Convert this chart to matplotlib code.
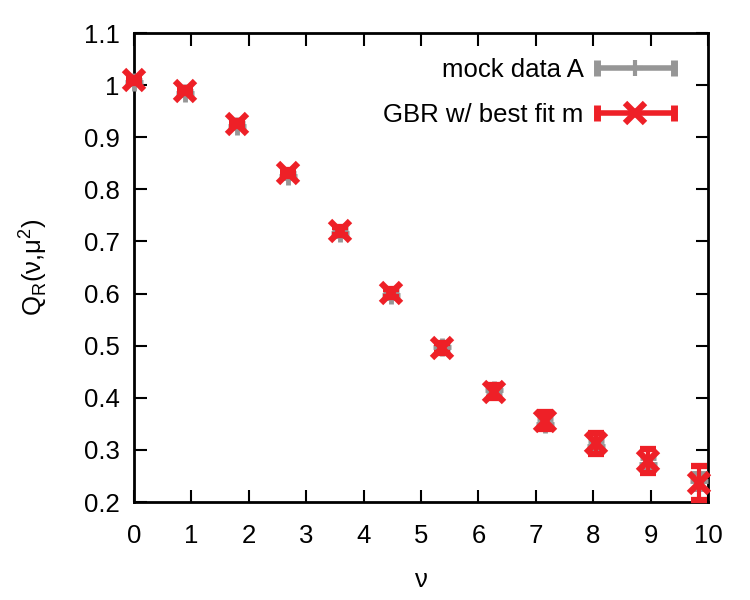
import matplotlib
matplotlib.use("Agg")
import matplotlib.pyplot as plt
from matplotlib.lines import Line2D
from matplotlib.legend_handler import HandlerBase

plt.rcParams['font.family'] = ['Liberation Sans', 'DejaVu Sans']

# data
nu = [0.0, 0.895, 1.79, 2.685, 3.58, 4.475, 5.37, 6.265, 7.16, 8.055, 8.95, 9.845]
mock_q = [1.006, 0.985, 0.922, 0.826, 0.717, 0.598, 0.497, 0.415, 0.350, 0.308, 0.273, 0.240]
mock_err = [0.004, 0.004, 0.005, 0.005, 0.006, 0.006, 0.007, 0.008, 0.009, 0.010, 0.012, 0.015]
gbr_q = [1.009, 0.989, 0.926, 0.831, 0.720, 0.601, 0.495, 0.412, 0.356, 0.313, 0.278, 0.237]
gbr_err = [0.004, 0.005, 0.005, 0.006, 0.007, 0.008, 0.010, 0.012, 0.016, 0.020, 0.023, 0.033]

yticks = [0.2, 0.3, 0.4, 0.5, 0.6, 0.7, 0.8, 0.9, 1.0, 1.1]
ytick_labels = ['0.2', '0.3', '0.4', '0.5', '0.6', '0.7', '0.8', '0.9', '1', '1.1']

grey = '#969696'
red = '#ee2027'


class HandlerBarKey(HandlerBase):
    """gnuplot-style key: horizontal bar with end ticks and a marker in the middle"""

    def __init__(self, marker, ms, mew, lw):
        super().__init__()
        self.marker, self.ms, self.mew, self.lw = marker, ms, mew, lw

    def create_artists(self, legend, orig_handle, xdescent, ydescent, width,
                       height, fontsize, trans):
        c = orig_handle.get_color()
        y = height / 2 - ydescent
        x0, x1 = -xdescent, -xdescent + width
        bar = Line2D([x0, x1], [y, y], color=c, lw=self.lw, solid_capstyle='butt')
        ends = Line2D([x0 + 1, x1 - 1], [y, y], ls='none', marker='|', ms=12,
                      mew=self.lw + 1, color=c)
        mid = Line2D([(x0 + x1) / 2], [y], ls='none', marker=self.marker,
                     ms=self.ms, mew=self.mew, color=c)
        return [a for a in (bar, ends, mid) if not a.set_transform(trans)]


fig = plt.figure(figsize=(7.5, 6), dpi=100)
ax = fig.add_axes([0.1787, 0.1633, 0.7653, 0.7817])

ax.errorbar(nu, mock_q, yerr=mock_err, fmt='+', color=grey, ms=13, mew=3.5,
            elinewidth=3, capsize=6, capthick=3, clip_on=False, zorder=3)
ax.errorbar(nu, gbr_q, yerr=gbr_err, fmt='x', color=red, ms=14, mew=4.5,
            elinewidth=3, capsize=6, capthick=4, clip_on=False, zorder=4)

ax.set_xlim(0, 10)
ax.set_ylim(0.2, 1.1)
ax.set_xticks(range(0, 11))
ax.set_yticks(yticks)
ax.set_yticklabels(ytick_labels)
ax.tick_params(direction='in', length=9, width=1.5, top=True, right=True,
               labelsize=18.5)
ax.tick_params(axis='y', pad=10.5)
ax.tick_params(axis='x', pad=16)
for s in ax.spines.values():
    s.set_linewidth(2)

ax.set_xlabel('ν', fontsize=18.5, labelpad=14)
ax.set_ylabel(r'Q$_\mathregular{R}$(ν,μ$^\mathregular{2}$)', fontsize=18.5, labelpad=25)

h1 = Line2D([], [], color=grey)
h2 = Line2D([], [], color=red)
ax.legend([h1, h2], ['mock data A', 'GBR w/ best fit m'], loc='upper right',
          bbox_to_anchor=(1 - 33 / 575, 1 - 25 / 469),
          frameon=False, markerfirst=False, fontsize=18.5, handlelength=3.1,
          borderaxespad=0, borderpad=0, labelspacing=0.8, handletextpad=0.45,
          handler_map={h1: HandlerBarKey('+', 12, 3, 4),
                       h2: HandlerBarKey('x', 14, 4.5, 4)})

fig.savefig('out.png', dpi=100)
